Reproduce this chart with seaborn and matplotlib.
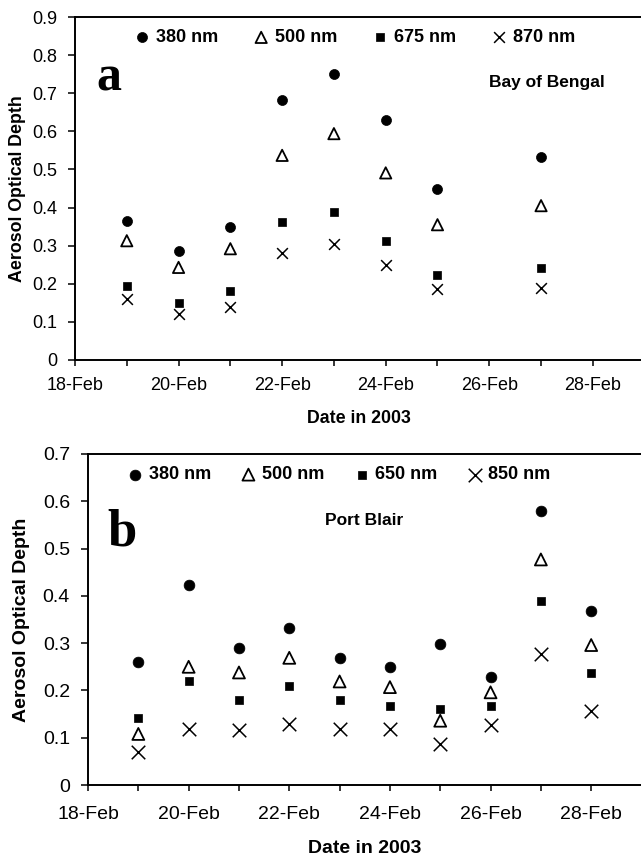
import numpy as np
import pandas as pd
import matplotlib
matplotlib.use("Agg")
import matplotlib.pyplot as plt
import matplotlib.dates as mdates
from matplotlib.ticker import FuncFormatter
import seaborn as sns

# Panel a: Bay of Bengal
days_a = [19, 20, 21, 22, 23, 24, 25, 27]
aod380_a = [0.366, 0.287, 0.349, 0.683, 0.751, 0.631, 0.448, 0.532]
aod500_a = [0.313, 0.243, 0.292, 0.537, 0.594, 0.491, 0.355, 0.405]
aod675_a = [0.195, 0.150, 0.180, 0.362, 0.388, 0.313, 0.222, 0.242]
aod870_a = [0.160, 0.121, 0.140, 0.280, 0.305, 0.250, 0.186, 0.189]
labels_a = ["380 nm", "500 nm", "675 nm", "870 nm"]

# Panel b: Port Blair
days_b = [19, 20, 21, 22, 23, 24, 25, 26, 27, 28]
aod380_b = [0.260, 0.422, 0.290, 0.331, 0.269, 0.250, 0.298, 0.228, 0.580, 0.369]
aod500_b = [0.108, 0.250, 0.238, 0.269, 0.219, 0.207, 0.136, 0.196, 0.477, 0.296]
aod650_b = [0.141, 0.221, 0.180, 0.210, 0.179, 0.168, 0.160, 0.168, 0.389, 0.237]
aod850_b = [0.069, 0.119, 0.117, 0.129, 0.118, 0.118, 0.086, 0.126, 0.278, 0.157]
labels_b = ["380 nm", "500 nm", "650 nm", "850 nm"]

sns.set_style("ticks")
plt.rcParams["font.family"] = ["Liberation Sans", "DejaVu Sans"]
plt.rcParams["axes.linewidth"] = 1.4
for key in ["text.color", "axes.labelcolor", "xtick.color", "ytick.color", "axes.edgecolor"]:
    plt.rcParams[key] = "black"


def to_dates(days):
    return pd.to_datetime(["2003-02-%02d" % d for d in days])


def draw_panel(ax, days, series, labels, sizes, fs, lab_fs, xlim_days, xpad):
    x = to_dates(days)
    s_circ, s_tri, s_sq, s_x = sizes
    sns.scatterplot(x=x, y=series[0], marker="o", s=s_circ, color="black",
                    edgecolor="black", linewidth=0.5, label=labels[0], ax=ax)
    sns.scatterplot(x=x, y=series[1], marker="^", s=s_tri, facecolor="none",
                    edgecolor="black", linewidth=1.3, label=labels[1], ax=ax)
    sns.scatterplot(x=x, y=series[2], marker="s", s=s_sq, color="black",
                    edgecolor="black", linewidth=0.5, label=labels[2], ax=ax)
    sns.scatterplot(x=x, y=series[3], marker="x", s=s_x, color="black",
                    linewidth=1.1, label=labels[3], ax=ax)

    start = mdates.date2num(pd.Timestamp("2003-02-18"))
    ax.set_xlim(start, start + xlim_days)
    ax.xaxis.set_major_locator(mdates.DayLocator(bymonthday=range(18, 29, 2)))
    ax.xaxis.set_minor_locator(mdates.DayLocator())
    ax.xaxis.set_major_formatter(mdates.DateFormatter("%d-%b"))
    ax.yaxis.set_major_formatter(FuncFormatter(lambda v, p: "%g" % round(v, 2)))
    ax.tick_params(axis="x", which="both", length=4, width=1.1, pad=xpad, labelsize=fs)
    ax.tick_params(axis="y", length=5, width=1.1, pad=8, labelsize=fs)
    ax.spines["right"].set_visible(False)
    ax.set_xlabel("Date in 2003", fontsize=lab_fs, fontweight="bold")
    ax.set_ylabel("Aerosol Optical Depth", fontsize=lab_fs, fontweight="bold")


fig = plt.figure(figsize=(6.41, 8.60), dpi=100)

# top panel
ax1 = fig.add_axes([0.117, 0.5814, 0.883, 0.3988])
draw_panel(ax1, days_a, [aod380_a, aod500_a, aod675_a, aod870_a], labels_a,
           (52, 66, 28, 60), 13, 12.8, 10.93, 8)
ax1.set_ylim(0, 0.9)
ax1.set_yticks(np.arange(0, 0.91, 0.1))
ax1.legend(ncol=4, loc="center left", bbox_to_anchor=(0.077, 0.94), frameon=False,
           handlelength=0.8, handletextpad=0.35, columnspacing=2.0,
           prop={"weight": "bold", "size": 13})
ax1.text(0.06, 0.787, "a", transform=ax1.transAxes, ha="center", va="baseline",
         fontsize=36, fontweight="bold", family="Liberation Serif")
ax1.text(0.834, 0.808, "Bay of Bengal", transform=ax1.transAxes, ha="center",
         va="center", fontsize=12.5, fontweight="bold")
ax1.xaxis.set_label_coords(0.502, -0.145)
ax1.yaxis.set_label_coords(-0.086, 0.5)

# bottom panel
ax2 = fig.add_axes([0.1373, 0.0872, 0.8627, 0.3849])
draw_panel(ax2, days_b, [aod380_b, aod500_b, aod650_b, aod850_b], labels_b,
           (60, 74, 36, 95), 14, 14, 10.99, 11)
ax2.set_ylim(0, 0.7)
ax2.set_yticks(np.arange(0, 0.71, 0.1))
ax2.legend(ncol=4, loc="center left", bbox_to_anchor=(0.043, 0.937), frameon=False,
           handlelength=0.8, handletextpad=0.35, columnspacing=1.67,
           prop={"weight": "bold", "size": 13})
ax2.text(0.0615, 0.725, "b", transform=ax2.transAxes, ha="center", va="baseline",
         fontsize=38, fontweight="bold", family="Liberation Serif")
ax2.text(0.499, 0.80, "Port Blair", transform=ax2.transAxes, ha="center",
         va="center", fontsize=12.5, fontweight="bold")
ax2.xaxis.set_label_coords(0.50, -0.166)
ax2.yaxis.set_label_coords(-0.104, 0.5)

fig.savefig("out.png", dpi=100)
